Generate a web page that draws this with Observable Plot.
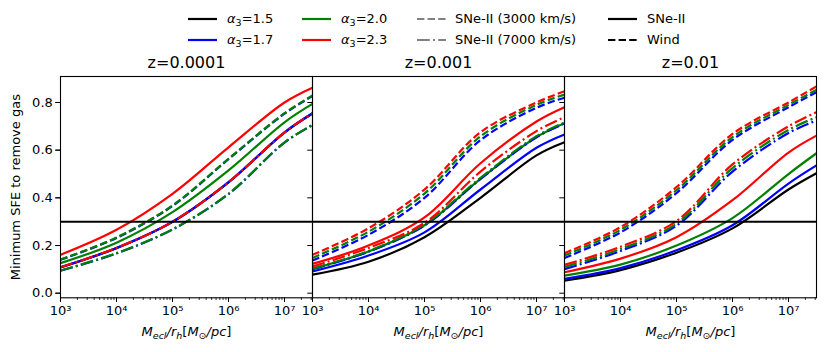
<!DOCTYPE html>
<html><head><meta charset="utf-8">
<script src="https://cdn.jsdelivr.net/npm/d3@7"></script>
<script src="https://cdn.jsdelivr.net/npm/@observablehq/plot@0.6"></script>
<style>
body{margin:0;background:#fff;font-family:"DejaVu Sans",sans-serif;}
#wrap{width:831px;}
#legend{position:relative;width:831px;height:52px;font-size:13px;color:#000;}
.lg-line{position:absolute;}
.lg-text{position:absolute;white-space:nowrap;line-height:16px;}
</style></head><body><div id="wrap"><div id="legend"></div><div id="chart"></div></div>
<script>
// ---------- data ----------
const panels = ["z=0.0001", "z=0.001", "z=0.01"];
const massPerRadius = [1e3, 1e4, 1e5, 1e6, 1e7, 3.16e7];   // M_ecl / r_h
const alphaLabels = ["1.5", "1.7", "2.0", "2.3"];
const alphaColors = ["black", "blue", "green", "red"];
const styleNames = ["SNe-II", "Wind", "SNe-II (7000 km/s)"];
const thresholdSFE = 0.3;
const yTicks = [0, 0.2, 0.4, 0.6, 0.8];
const xTicks = [1e3, 1e4, 1e5, 1e6, 1e7];

// [alpha3, feedback, minimum SFE at each massPerRadius]
const sfe_z0001 = [
  ["1.5", "SNe-II", [0.108, 0.189, 0.299, 0.465, 0.674, 0.754]],
  ["1.7", "SNe-II", [0.109, 0.190, 0.300, 0.466, 0.675, 0.755]],
  ["2.0", "SNe-II", [0.126, 0.212, 0.340, 0.515, 0.717, 0.794]],
  ["2.3", "SNe-II", [0.161, 0.266, 0.417, 0.612, 0.800, 0.862]],
  ["1.7", "Wind", [0.140, 0.232, 0.366, 0.562, 0.753, 0.827]],
  ["2.0", "Wind", [0.141, 0.234, 0.368, 0.564, 0.755, 0.829]],
  ["1.7", "SNe-II (7000 km/s)", [0.094, 0.167, 0.267, 0.416, 0.632, 0.705]],
  ["2.0", "SNe-II (7000 km/s)", [0.095, 0.168, 0.268, 0.417, 0.633, 0.706]],
  ["2.3", "SNe-II (7000 km/s)", [0.109, 0.190, 0.300, 0.466, 0.675, 0.755]]
];
const sfe_z001 = [
  ["1.5", "SNe-II", [0.078, 0.132, 0.235, 0.400, 0.578, 0.633]],
  ["1.7", "SNe-II", [0.091, 0.158, 0.255, 0.435, 0.610, 0.666]],
  ["2.0", "SNe-II", [0.102, 0.175, 0.285, 0.480, 0.655, 0.713]],
  ["2.3", "SNe-II", [0.123, 0.200, 0.318, 0.545, 0.720, 0.780]],
  ["1.7", "Wind", [0.137, 0.245, 0.400, 0.642, 0.778, 0.820]],
  ["2.0", "Wind", [0.148, 0.258, 0.418, 0.658, 0.790, 0.833]],
  ["2.3", "Wind", [0.161, 0.272, 0.435, 0.675, 0.800, 0.847]],
  ["1.7", "SNe-II (7000 km/s)", [0.101, 0.174, 0.284, 0.479, 0.654, 0.712]],
  ["2.0", "SNe-II (7000 km/s)", [0.103, 0.177, 0.288, 0.484, 0.659, 0.716]],
  ["2.3", "SNe-II (7000 km/s)", [0.112, 0.190, 0.295, 0.510, 0.680, 0.738]]
];
const sfe_z01 = [
  ["1.5", "SNe-II", [0.053, 0.097, 0.170, 0.272, 0.435, 0.503]],
  ["1.7", "SNe-II", [0.060, 0.105, 0.180, 0.285, 0.460, 0.536]],
  ["2.0", "SNe-II", [0.074, 0.120, 0.200, 0.315, 0.500, 0.587]],
  ["2.3", "SNe-II", [0.088, 0.145, 0.235, 0.390, 0.590, 0.661]],
  ["1.7", "Wind", [0.148, 0.255, 0.420, 0.643, 0.780, 0.843]],
  ["2.0", "Wind", [0.158, 0.266, 0.432, 0.655, 0.790, 0.853]],
  ["2.3", "Wind", [0.168, 0.277, 0.445, 0.668, 0.800, 0.867]],
  ["1.7", "SNe-II (7000 km/s)", [0.101, 0.177, 0.283, 0.510, 0.672, 0.724]],
  ["2.0", "SNe-II (7000 km/s)", [0.110, 0.185, 0.292, 0.525, 0.685, 0.738]],
  ["2.3", "SNe-II (7000 km/s)", [0.119, 0.195, 0.303, 0.540, 0.700, 0.759]]
];

// legend entries: [column, row, label, kind, colour]
const legendEntries = [
  [0, 0, "α|3|=1.5", "solid", "black"],
  [0, 1, "α|3|=1.7", "solid", "blue"],
  [1, 0, "α|3|=2.0", "solid", "green"],
  [1, 1, "α|3|=2.3", "solid", "red"],
  [2, 0, "SNe-II (3000 km/s)", "dashed", "gray"],
  [2, 1, "SNe-II (7000 km/s)", "dashdot", "gray"],
  [3, 0, "SNe-II", "solid", "black"],
  [3, 1, "Wind", "dashed", "black"]
];

// ---------- build rows ----------
const allPanels = [sfe_z0001, sfe_z001, sfe_z01];
const rows = [];
allPanels.forEach((series, pi) => {
  series.forEach(([alpha, style, vals], si) => {
    vals.forEach((v, i) => rows.push({panel: panels[pi], alpha, style, key: pi + "-" + si, x: massPerRadius[i], y: v}));
  });
});

const dash = {solid: null, dashed: "7.4,3.2", dashdot: "12.8,3.2,2,3.2"};
const styleDash = {"SNe-II": dash.solid, "Wind": dash.dashed, "SNe-II (7000 km/s)": dash.dashdot};

// minor log ticks
const minorTicks = [];
for (let e = 3; e <= 7; e++) for (let m = 2; m <= 9; m++) { const v = m * 10 ** e; if (v <= 10 ** 7.5) minorTicks.push(v); }
const supDigits = "⁰¹²³⁴⁵⁶⁷⁸⁹";
const fmtPow = d => "10" + String(Math.round(Math.log10(d))).split("").map(c => supDigits[+c]).join("");
const XLAB = "XLABEL_PLACEHOLDER";

const lineMarks = styleNames.map(s => Plot.line(rows.filter(r => r.style === s), {
  x: "x", y: "y", z: "key", fx: "panel", stroke: "alpha",
  strokeWidth: 2.2, strokeDasharray: styleDash[s], curve: "catmull-rom", strokeLinecap: "butt"
}));

const plot = Plot.plot({
  width: 831, height: 300,
  marginLeft: 59, marginRight: 14, marginTop: 24, marginBottom: 54.7,
  style: {fontFamily: "DejaVu Sans", fontSize: "13px", color: "black", background: "white"},
  fx: {domain: panels, padding: 0, axis: null},
  x: {type: "log", domain: [1e3, 10 ** 7.5]},
  y: {domain: [-0.0193, 0.909]},
  color: {domain: alphaLabels, range: alphaColors},
  marks: [
    ...lineMarks,
    Plot.ruleY([thresholdSFE], {stroke: "black", strokeWidth: 2}),
    Plot.frame({stroke: "black", strokeWidth: 1.1}),
    Plot.axisX({ticks: minorTicks, tickSize: 2.7, tickFormat: () => "", label: null, strokeWidth: 0.8}),
    Plot.axisX({ticks: xTicks, tickSize: 4.7, tickPadding: 3, tickFormat: fmtPow, label: null, strokeWidth: 1}),
    Plot.axisY({ticks: yTicks, tickSize: 4.7, tickPadding: 3, tickFormat: d3.format(".1f"), label: null, strokeWidth: 1}),
    Plot.axisY({ticks: yTicks, tickSize: 4.7, tickFormat: () => "", label: null, strokeWidth: 1, facetAnchor: null}),
    Plot.text(panels, {fx: d => d, text: d => d, frameAnchor: "top", dy: -14, fontSize: 16, lineAnchor: "middle"}),
    Plot.text(panels, {fx: d => d, text: () => XLAB, frameAnchor: "bottom", dy: 34, fontSize: 13, lineAnchor: "middle"}),
    Plot.text([panels[0]], {fx: d => d, text: () => "Minimum SFE to remove gas", frameAnchor: "left", dx: -45, rotate: -90, fontSize: 13, lineAnchor: "middle", textAnchor: "middle"})
  ]
});
document.getElementById("chart").appendChild(plot);

// rich x-label (italic math with subscripts)
const parts = [["M", 1, 0], ["ecl", 1, 1], ["/", 1, 0], ["r", 1, 0], ["h", 1, 1], ["[", 0, 0], ["M", 1, 0], ["⊙", 0, 1], ["/pc", 1, 0], ["]", 0, 0]];
d3.select(plot).selectAll("text").filter(function () { return this.textContent === XLAB; }).each(function () {
  const t = d3.select(this);
  t.text("");
  let prevSub = 0;
  parts.forEach(([s, it, sub]) => {
    const ts = t.append("tspan").text(s).attr("font-style", it ? "italic" : "normal");
    if (sub) ts.attr("font-size", "9.5px");
    const shift = (sub ? 3.5 : 0) - (prevSub ? 3.5 : 0);
    if (shift) ts.attr("dy", shift);
    prevSub = sub;
  });
});

// ---------- legend ----------
const colLine = [188, 302, 417, 608];
const colText = [227, 341, 455, 647];
const rowY = [19, 40];
const leg = document.getElementById("legend");
legendEntries.forEach(([c, r, label, kind, col]) => {
  const svgNS = "http://www.w3.org/2000/svg";
  const s = document.createElementNS(svgNS, "svg");
  s.setAttribute("width", 30); s.setAttribute("height", 6);
  s.setAttribute("class", "lg-line");
  s.style.left = colLine[c] + "px"; s.style.top = (rowY[r] - 3) + "px";
  const l = document.createElementNS(svgNS, "line");
  l.setAttribute("x1", 0); l.setAttribute("x2", 29); l.setAttribute("y1", 3); l.setAttribute("y2", 3);
  l.setAttribute("stroke", col); l.setAttribute("stroke-width", 2.2);
  if (dash[kind]) l.setAttribute("stroke-dasharray", dash[kind]);
  s.appendChild(l); leg.appendChild(s);
  const d = document.createElement("div");
  d.className = "lg-text";
  d.style.left = colText[c] + "px"; d.style.top = (rowY[r] - 8) + "px";
  const segs = label.split("|");
  if (segs.length === 3) {
    d.innerHTML = "<i>" + segs[0] + "</i><sub style='font-size:9.5px;vertical-align:-3px'>" + segs[1] + "</sub>" + segs[2];
  } else d.textContent = label;
  leg.appendChild(d);
});
</script></body></html>
